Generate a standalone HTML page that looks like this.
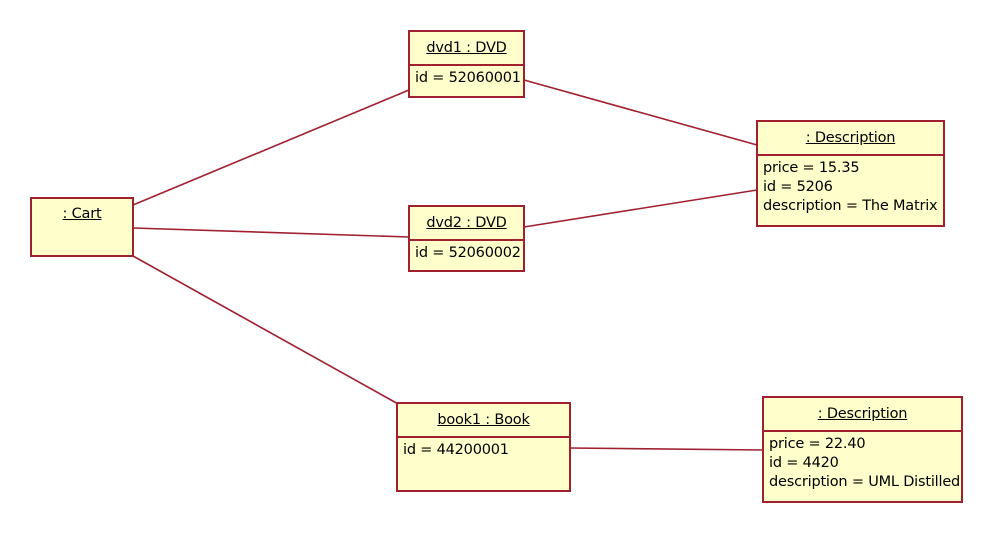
<!DOCTYPE html>
<html><head><meta charset="utf-8"><style>
body{margin:0;background:#fff;width:993px;height:533px;overflow:hidden;position:relative;font-family:"DejaVu Sans","Liberation Sans",sans-serif;font-size:14.5px;color:#000;letter-spacing:-0.2px;white-space:nowrap}
.b{position:absolute;background:#ffffcc;border:2px solid #a02030;box-sizing:border-box}
.h{border-bottom:2px solid #a02030;text-align:center;text-decoration:underline;box-sizing:border-box}
.a{padding:3px 0 0 5px;line-height:19px}
svg{position:absolute;left:0;top:0}
</style></head><body>
<svg width="993" height="533"><g stroke="#a02030" stroke-width="1.6" fill="none">
<line x1="133" y1="205" x2="409" y2="90"/>
<line x1="133" y1="228" x2="409" y2="237"/>
<line x1="133" y1="256" x2="400" y2="405"/>
<line x1="524" y1="80" x2="757" y2="145"/>
<line x1="524" y1="227" x2="757" y2="190"/>
<line x1="570" y1="448" x2="763" y2="450"/>
</g></svg>
<div class="b" style="left:30px;top:197px;width:104px;height:60px"><div style="text-align:center;text-decoration:underline;padding-top:7px">: Cart</div></div>
<div class="b" style="left:408px;top:30px;width:117px;height:68px"><div class="h" style="height:34px;line-height:32px">dvd1 : DVD</div><div class="a">id = 52060001</div></div>
<div class="b" style="left:408px;top:205px;width:117px;height:67px"><div class="h" style="height:34px;line-height:32px">dvd2 : DVD</div><div class="a">id = 52060002</div></div>
<div class="b" style="left:756px;top:120px;width:189px;height:107px"><div class="h" style="height:34px;line-height:32px">: Description</div><div class="a">price = 15.35<br>id = 5206<br>description = The Matrix</div></div>
<div class="b" style="left:396px;top:402px;width:175px;height:90px"><div class="h" style="height:34px;line-height:32px">book1 : Book</div><div class="a">id = 44200001</div></div>
<div class="b" style="left:762px;top:396px;width:201px;height:107px"><div class="h" style="height:34px;line-height:32px">: Description</div><div class="a">price = 22.40<br>id = 4420<br>description = UML Distilled</div></div>
</body></html>
